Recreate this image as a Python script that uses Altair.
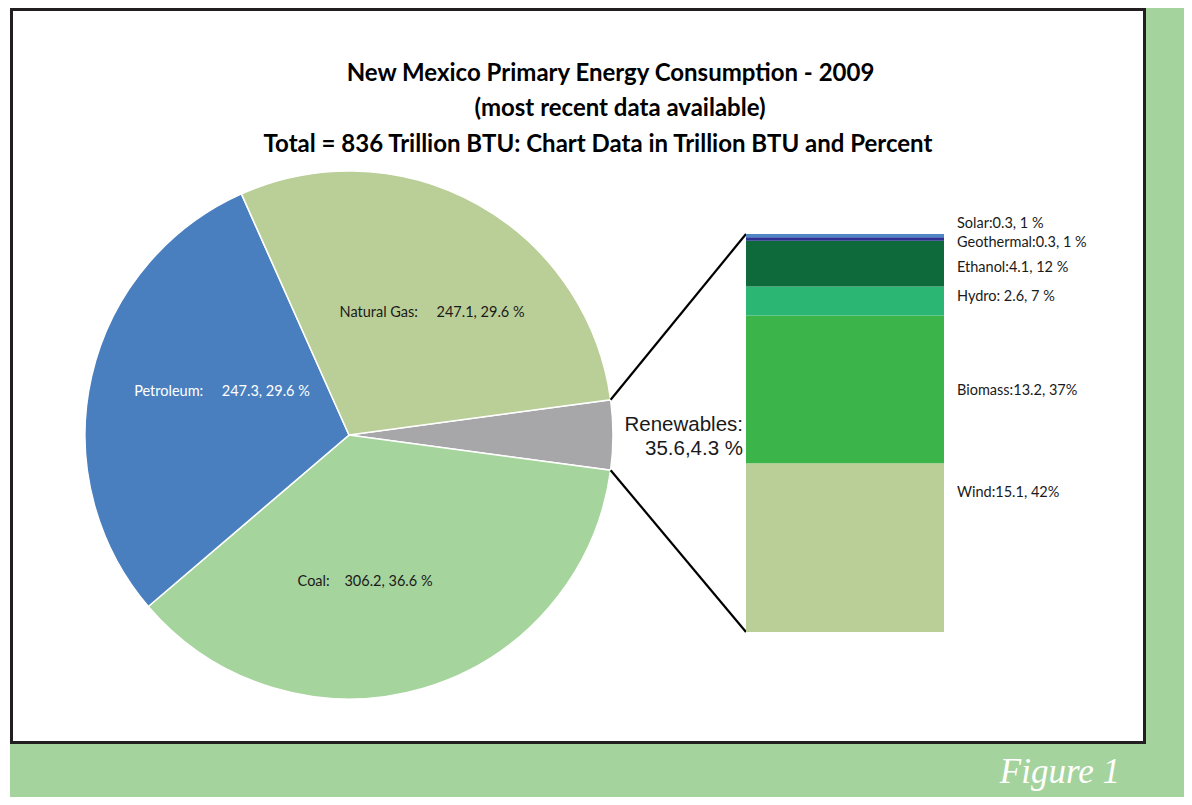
import math
import altair as alt
import pandas as pd

# ---------------- data ----------------
pie_cats = ["Renewables", "Coal", "Petroleum", "Natural Gas"]
pie_vals = [35.6, 306.2, 247.3, 247.1]
pie_pcts = ["4.3", "36.6", "29.6", "29.6"]

ren_cats = ["Wind", "Biomass", "Hydro", "Ethanol", "Geothermal", "Solar"]
ren_vals = [15.1, 13.2, 2.6, 4.1, 0.3, 0.3]
ren_labels = ["Wind:15.1, 42%", "Biomass:13.2, 37%", "Hydro: 2.6, 7 %",
              "Ethanol:4.1, 12 %", "Geothermal:0.3, 1 %", "Solar:0.3, 1 %"]

title_lines = ["New Mexico Primary Energy Consumption  - 2009",
               "(most recent data available)",
               "Total = 836 Trillion BTU: Chart Data in Trillion BTU and Percent"]

# ---------------- styles / layout ----------------
pie_colors = ["#A7A7AA", "#A6D49D", "#4A7FBF", "#BACF97"]
ren_colors = ["#BACF97", "#3BB54A", "#2BB673", "#0F6A3B", "#2E3192", "#4F86C6"]
GREEN = "#A5D39E"
W, H = 1176, 789
cx, cy, R = 341, 427, 264
bar_x0, bar_x1 = 738, 936
bar_top, bar_bot = 226, 624
# pixel nudges of bar labels relative to segment centres (Excel placement)
label_nudge_px = [-55, 2, -4, 4, 4, -12]
# pie label placement: angular offset (deg) from slice middle, radius (px)
pie_label_dtheta = [0, 10.2, 5.9, 5.0]
pie_label_r = [0, 148, 134, 148]
# non-breaking space gaps between name and value
pie_gap = [0, 4, 5, 5]
# title line centres and baselines (px)
title_x = [602.5, 612, 590]
title_y = [72.5, 108, 143.5]

total = sum(pie_vals)
ren_total = sum(ren_vals)
frac = pie_vals[0] / total
off = math.pi / 2 - math.pi * frac
theta_scale = alt.Scale(domain=[0, total], range=[off, off + 2 * math.pi])

upp = ren_total / (bar_bot - bar_top)
y_scale = alt.Scale(domain=[-(H - bar_bot) * upp, ren_total + bar_top * upp],
                    nice=False, zero=False)

NB = "\u00a0"
pie_text = [""] + [f"{c}:{NB * g}{v}, {p} %" for c, v, p, g in
                   zip(pie_cats[1:], pie_vals[1:], pie_pcts[1:], pie_gap[1:])]
cum = 0.0
mids = []
for v, d in zip(pie_vals, pie_label_dtheta):
    mids.append(cum + v / 2 + d / 360 * total)
    cum += v
pie_df = pd.DataFrame({"cat": pie_cats, "val": pie_vals, "idx": range(4),
                       "label": pie_text, "mid": mids, "r": pie_label_r})

cum = 0.0
label_y = []
for v, n in zip(ren_vals, label_nudge_px):
    label_y.append(cum + v / 2 - n * upp)
    cum += v
ren_df = pd.DataFrame({"cat": ren_cats, "val": ren_vals, "idx": range(6),
                       "label": ren_labels, "ly": label_y})

dummy = pd.DataFrame({"a": [0]})

bg = alt.Chart(dummy).mark_rect(color=GREEN).encode(
    x=alt.value(2), x2=alt.value(W), y=alt.value(0), y2=alt.value(H))
box = alt.Chart(dummy).mark_rect(fill="white", stroke="#231F20", strokeWidth=3).encode(
    x=alt.value(3.5), x2=alt.value(1136.5), y=alt.value(1.5), y2=alt.value(734.5))

title_layers = [
    alt.Chart(pd.DataFrame({"t": [t]})).mark_text(
        font="Lato", fontWeight="bold", fontSize=24, align="center",
        baseline="alphabetic", color="black").encode(
        x=alt.value(tx), y=alt.value(ty), text="t:N")
    for t, tx, ty in zip(title_lines, title_x, title_y)
]

pie = alt.Chart(pie_df).mark_arc(outerRadius=R, stroke="white", strokeWidth=1.5).encode(
    theta=alt.Theta("val:Q", stack=True, scale=theta_scale),
    color=alt.Color("cat:N", scale=alt.Scale(domain=pie_cats, range=pie_colors), legend=None),
    order=alt.Order("idx:Q"),
    x=alt.value(cx), y=alt.value(cy))

pie_lbl = alt.Chart(pie_df).transform_filter(alt.datum.label != "").mark_text(
    font="Lato", fontSize=14.5).encode(
    theta=alt.Theta("mid:Q", stack=None, scale=theta_scale),
    radius=alt.Radius("r:Q", scale=None),
    text="label:N",
    color=alt.condition(alt.datum.cat == "Petroleum", alt.value("white"), alt.value("#1a1a1a")),
    x=alt.value(cx), y=alt.value(cy))

ren_lbl = alt.Chart(pd.DataFrame({
    "t": [f"Renewables:\n{pie_vals[0]},{pie_pcts[0]} %"]})).mark_text(
    font="Liberation Sans", fontSize=20.5, align="right", baseline="alphabetic",
    lineBreak="\n", lineHeight=24, color="#1a1a1a").encode(
    x=alt.value(735), y=alt.value(423), text="t:N")

# connector lines from pie edge to bar corners
t0 = off
t1 = off + 2 * math.pi * frac
p0 = (cx + R * math.sin(t0), cy - R * math.cos(t0))
p1 = (cx + R * math.sin(t1), cy - R * math.cos(t1))
conn_top = alt.Chart(dummy).mark_rule(color="black", strokeWidth=2.2).encode(
    x=alt.value(p0[0]), y=alt.value(p0[1]), x2=alt.value(bar_x0), y2=alt.value(bar_top))
conn_bot = alt.Chart(dummy).mark_rule(color="black", strokeWidth=2.2).encode(
    x=alt.value(p1[0]), y=alt.value(p1[1]), x2=alt.value(bar_x0), y2=alt.value(bar_bot))

bar = alt.Chart(ren_df).transform_stack(
    stack="val", groupby=[], as_=["y0", "y1"], sort=[alt.SortField("idx")]
).mark_rect().encode(
    x=alt.value(bar_x0), x2=alt.value(bar_x1),
    y=alt.Y("y0:Q", scale=y_scale, axis=None), y2="y1:Q",
    color=alt.Color("cat:N", scale=alt.Scale(domain=ren_cats, range=ren_colors), legend=None))

bar_lbl = alt.Chart(ren_df).mark_text(font="Lato", fontSize=14.5, align="left",
                                      baseline="middle", color="#1a1a1a").encode(
    x=alt.value(949), y=alt.Y("ly:Q", scale=y_scale, axis=None), text="label:N")

fig = alt.Chart(pd.DataFrame({"t": ["Figure 1"]})).mark_text(
    font="Liberation Serif", fontStyle="italic", fontSize=35, align="right",
    baseline="alphabetic", color="white").encode(
    x=alt.value(1112), y=alt.value(775), text="t:N")

chart = alt.layer(bg, box, *title_layers, pie, pie_lbl, ren_lbl, conn_top, conn_bot, bar,
                  bar_lbl, fig).resolve_scale(color="independent").properties(
    width=W, height=H, padding=0, background="white"
).configure_view(stroke=None)

chart.save("out.html", embed_options={"renderer": "svg", "actions": False})
